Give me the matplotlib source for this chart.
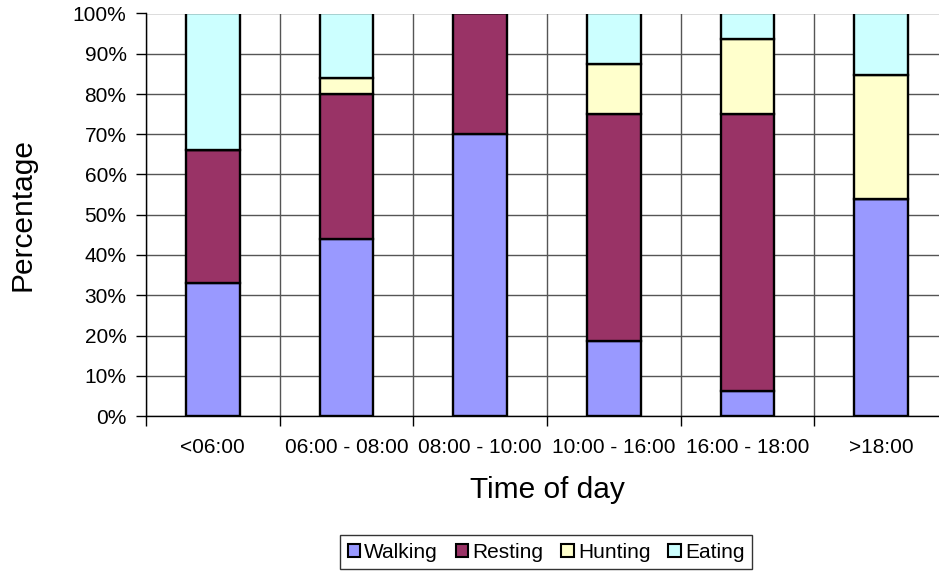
import matplotlib
matplotlib.use("Agg")
import matplotlib.pyplot as plt
import numpy as np

plt.rcParams['font.family'] = ['Liberation Sans', 'DejaVu Sans']

categories = ["<06:00", "06:00 - 08:00", "08:00 - 10:00", "10:00 - 16:00", "16:00 - 18:00", ">18:00"]
walking = [33.0, 44.0, 70.0, 18.75, 6.25, 53.8]
resting = [33.0, 36.0, 30.0, 56.25, 68.75, 0.0]
hunting = [0.0, 4.0, 0.0, 12.5, 18.75, 30.8]
eating = [34.0, 16.0, 0.0, 12.5, 6.25, 15.4]

series = [("Walking", walking, "#9999FF"),
          ("Resting", resting, "#993366"),
          ("Hunting", hunting, "#FFFFCC"),
          ("Eating", eating, "#CCFFFF")]

W, H = 939, 573
fig = plt.figure(figsize=(W / 100, H / 100), dpi=100)
left, right, bottom, top = 146, 948, 416, 13.5
ax = fig.add_axes([left / W, 1 - bottom / H, (right - left) / W, (bottom - top) / H])

x = np.arange(len(categories))
base = np.zeros(len(categories))
for name, vals, col in series:
    vals = np.array(vals)
    ax.bar(x, vals, width=0.4, bottom=base, color=col, edgecolor="black",
           linewidth=1.7, label=name, zorder=3)
    base += vals

ax.set_xlim(-0.5, len(categories) - 0.5)
ax.set_ylim(0, 100)

# major ticks on category boundaries carry the grid; minor ticks carry the labels
ax.set_xticks(np.arange(len(categories) + 1) - 0.5)
ax.set_xticklabels([])
ax.set_xticks(x, minor=True)
ax.set_xticklabels(categories, minor=True, fontsize=15)
ax.tick_params(axis="x", which="major", length=7, width=1, direction="out")
ax.tick_params(axis="x", which="minor", length=0, pad=15.5)

yt = np.arange(0, 101, 10)
ax.set_yticks(yt)
ax.set_yticklabels([f"{v}%" for v in yt], fontsize=15)
ax.tick_params(axis="y", length=7, width=1, direction="out", pad=7)

ax.grid(True, which="major", color="#555555", linewidth=1, zorder=0)
ax.set_axisbelow(True)
for s in ["top", "right"]:
    ax.spines[s].set_visible(False)
for s in ["left", "bottom"]:
    ax.spines[s].set_color("black")
    ax.spines[s].set_linewidth(1)
    ax.spines[s].set_zorder(4)

ax.set_xlabel("Time of day", fontsize=21.5)
ax.xaxis.set_label_coords(0.5, -0.184)
ax.xaxis.label.set_va("center")
ax.set_ylabel("Percentage", fontsize=21.5)
ax.yaxis.set_label_coords(-0.1546, 0.5)
ax.yaxis.label.set_va("center")

leg = fig.legend(loc="center", bbox_to_anchor=(546 / W, 1 - 552 / H), ncol=4,
                 fontsize=15, frameon=True, fancybox=False, edgecolor="black",
                 handlelength=0.6, handleheight=0.6, handletextpad=0.2,
                 columnspacing=0.85, borderpad=0.35, borderaxespad=0)
leg.get_frame().set_linewidth(1)
for p in leg.get_patches():
    p.set_linewidth(1.5)

fig.savefig("out.png", dpi=100)
